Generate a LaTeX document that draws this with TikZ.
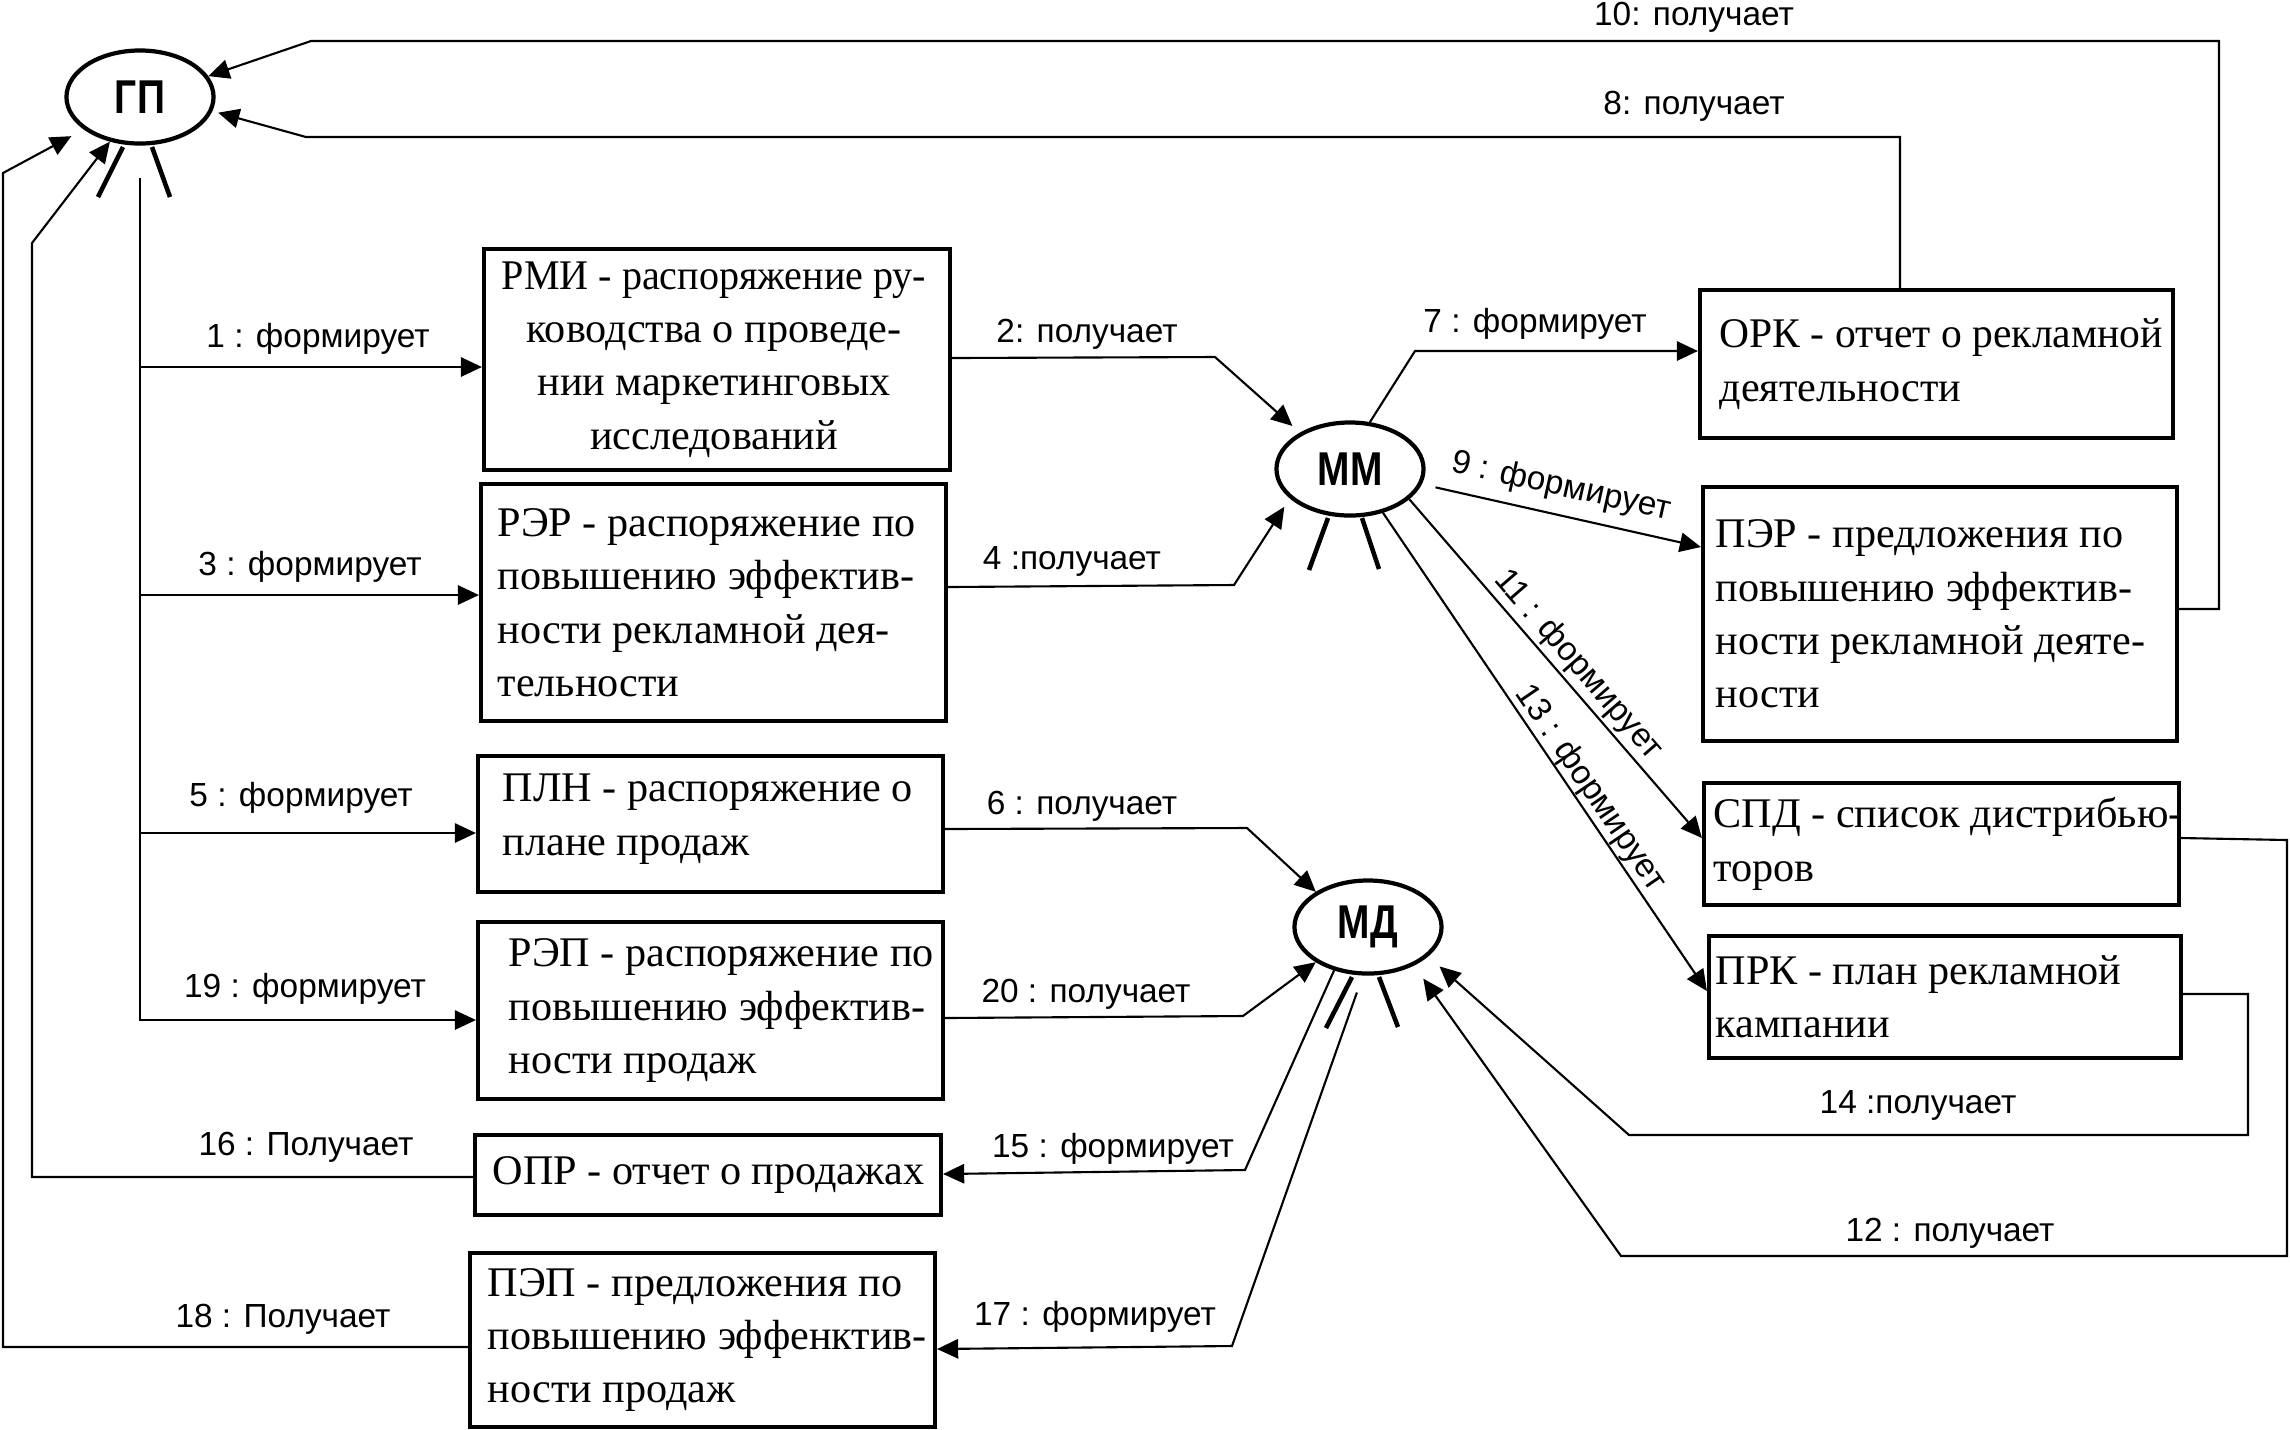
\documentclass[tikz,border=0pt]{standalone}
\usepackage{fontspec}
\usetikzlibrary{shapes.geometric,arrows.meta}
\newfontfamily\lblfont{Liberation Sans}
\newfontfamily\boxfont{Liberation Serif}
\newfontfamily\actfont[FakeStretch=0.82]{Liberation Sans}
\begin{document}
\begin{tikzpicture}[x=0.01cm,y=-0.01cm,
  actor/.style={draw, ellipse, line width=1.2pt, minimum width=1.47cm, minimum height=0.93cm, inner sep=0pt, font=\actfont\bfseries\fontsize{13.5}{14}\selectfont},
  stub/.style={line width=1.3pt},
  box/.style={draw, line width=1.1pt, inner sep=0pt},
  btext/.style={inner sep=0pt, align=left, font=\boxfont\fontsize{12}{15.2}\selectfont, anchor=west},
  lbl/.style={inner sep=0pt, font=\lblfont\fontsize{9.5}{11}\selectfont},
  arr/.style={line width=0.6pt, -{Triangle[length=6pt,width=5.5pt]}},
  ln/.style={line width=0.6pt}]
\fill[white] (0,0) rectangle (2290,1429);
\useasboundingbox (0,0) rectangle (2290,1429);

% actors
\node[actor] (gp) at (140,97) {ГП};
\node[actor] (mm) at (1350,469) {ММ};
\node[actor] (md) at (1368,927) {МД};
\draw[stub] ([shift={(-17,50)}]gp.center) -- ++(-25,50);
\draw[stub] ([shift={(12,50)}]gp.center) -- ++(18,50);
\draw[stub] ([shift={(-22,49)}]mm.center) -- ++(-19,52);
\draw[stub] ([shift={(12,49)}]mm.center) -- ++(17,51);
\draw[stub] ([shift={(-16,50)}]md.center) -- ++(-26,51);
\draw[stub] ([shift={(11,50)}]md.center) -- ++(19,50);

% boxes
\node[box, minimum width=4.66cm, minimum height=2.21cm] (rmi) at (717,359.5) {};
\node[box, minimum width=4.65cm, minimum height=2.37cm] (rer) at (713.5,602.5) {};
\node[box, minimum width=4.65cm, minimum height=1.36cm] (pln) at (710.5,824) {};
\node[box, minimum width=4.65cm, minimum height=1.77cm] (rep) at (710.5,1010.5) {};
\node[box, minimum width=4.66cm, minimum height=0.80cm] (opr) at (708,1175) {};
\node[box, minimum width=4.65cm, minimum height=1.74cm] (pep) at (702.5,1340) {};
\node[box, minimum width=4.73cm, minimum height=1.48cm] (ork) at (1936.5,364) {};
\node[box, minimum width=4.74cm, minimum height=2.54cm] (per) at (1940,614) {};
\node[box, minimum width=4.75cm, minimum height=1.22cm] (spd) at (1941.5,844) {};
\node[box, minimum width=4.72cm, minimum height=1.22cm] (prk) at (1945,997) {};

\node[btext, anchor=center, align=center] (rmit) at ([xshift=-0.03cm]rmi.center) {\scalebox{0.95}[1]{РМИ - распоряжение ру-}\\ководства о проведе-\\нии маркетинговых\\исследований};
\node[btext] (rert) at ([xshift=0.18cm]rer.west) {РЭР - распоряжение по\\повышению эффектив-\\ности рекламной дея-\\тельности};
\node[btext] (plnt) at ([xshift=0.26cm,yshift=0.05cm]pln.west) {ПЛН - распоряжение о\\плане продаж};
\node[btext] (rept) at ([xshift=0.32cm]rep.west) {РЭП - распоряжение по\\повышению эффектив-\\ности продаж};
\node[btext] (oprt) at ([xshift=0.19cm]opr.west) {ОПР - отчет о продажах};
\node[btext] (pept) at ([xshift=0.19cm]pep.west) {ПЭП - предложения по\\повышению эффенктив-\\ности продаж};
\node[btext] (orkt) at ([xshift=0.21cm]ork.west) {\scalebox{0.985}[1]{ОРК - отчет о рекламной}\\деятельности};
\node[btext] (pert) at ([xshift=0.14cm]per.west) {ПЭР - предложения по\\повышению эффектив-\\ности рекламной деяте-\\ности};
\node[btext] (spdt) at ([xshift=0.11cm]spd.west) {СПД - список дистрибью-\\торов};
\node[btext] (prkt) at ([xshift=0.08cm]prk.west) {ПРК - план рекламной\\кампании};

% connectors from GP
\draw[arr] ([yshift=-0.32cm]gp.south) -- (gp.south |- 0,1020) -- (rep.west |- 0,1020);
\draw[arr] (gp.south |- 0,367) -- (rmi.west |- 0,367);
\draw[arr] (gp.south |- 0,595) -- (rer.west |- 0,595);
\draw[arr] (gp.south |- 0,833) -- (pln.west |- 0,833);

% to MM / MD
\draw[arr, shorten >=0.1cm] (rmi.east |- 0,358) -- (1215,357) -- (mm.144);
\draw[arr, shorten >=0.1cm] (rer.east |- 0,587) -- (1234,585) -- (mm.206);
\draw[arr] (pln.east |- 0,829) -- (1247,828) -- (md.146);
\draw[arr] (rep.east |- 0,1018) -- (1243,1016) -- (md.214);

% from MM
\draw[arr] (mm.67) -- (1415,351) -- (ork.west |- 0,351);
\draw[arr, shorten <=0.14cm] (mm.-12) -- (per.west |- 0,547);
\draw[arr] (mm.-27) -- (spd.west |- 0,838);
\draw[arr] (mm.-53) -- (prk.west |- 0,991);

% back to GP
\draw[arr, shorten >=0.06cm] (ork.north -| 1900,0) -- (1900,137) -- (306,137) -- (gp.-11);
\draw[arr] (per.east |- 0,609) -- (2219,609) -- (2219,41) -- (311,41) -- (gp.17);
\draw[arr] (opr.west |- 0,1177) -- (32,1177) -- (32,243) -- (gp.-124);
\draw[arr, shorten >=0.14cm] (pep.west |- 0,1347) -- (3,1347) -- (3,173) -- (gp.-150);

% back to MD
\draw[arr, shorten >=0.16cm] (spd.east |- 0,838) -- (2287,840) -- (2287,1256) -- (1621,1256) -- (md.-40);
\draw[arr, shorten >=0.15cm] (prk.east |- 0,994) -- (2248,994) -- (2248,1135) -- (1629,1135) -- (md.-26);

% from MD
\draw[arr] (md.-128) -- (1245,1170) -- (opr.east |- 0,1174);
\draw[arr, shorten <=0.18cm] (md.-96) -- (1232,1346) -- (pep.east |- 0,1349);

% labels
\node[lbl] (l10) at (1694,17) {10: получает};
\node[lbl] (l8) at (1694,106) {8: получает};
\node[lbl] (l1) at (318,339) {1 : формирует};
\node[lbl] (l3) at (310,567) {3 : формирует};
\node[lbl] (l5) at (301,798) {5 : формирует};
\node[lbl] (l19) at (305,989) {19 : формирует};
\node[lbl] (l16) at (306,1147) {16 : Получает};
\node[lbl] (l18) at (283,1319) {18 : Получает};
\node[lbl] (l2) at (1087,334) {2: получает};
\node[lbl] (l4) at (1072,561) {4 :получает};
\node[lbl] (l6) at (1082,806) {6 : получает};
\node[lbl] (l20) at (1086,994) {20 : получает};
\node[lbl] (l15) at (1113,1149) {15 : формирует};
\node[lbl] (l17) at (1095,1317) {17 : формирует};
\node[lbl] (l7) at (1535,324) {7 : формирует};
\node[lbl, rotate=-12.5] (l9) at (1561,487) {9 : формирует};
\node[lbl, rotate=-49] (l11) at (1578,665) {11 : формирует};
\node[lbl, rotate=-55.7] (l13) at (1590,788) {13 : формирует};
\node[lbl] (l14) at (1918,1105) {14 :получает};
\node[lbl] (l12) at (1950,1233) {12 : получает};
\end{tikzpicture}
\end{document}
